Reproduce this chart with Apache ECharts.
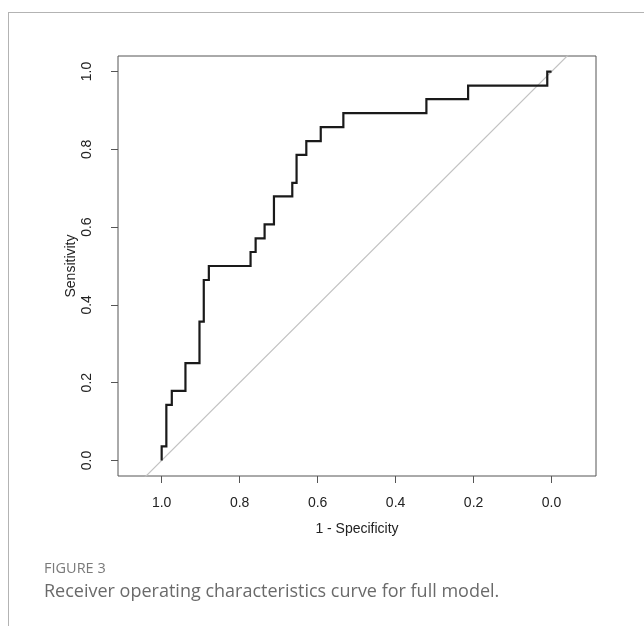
<!DOCTYPE html>
<html>
<head>
<meta charset="utf-8">
<script src="https://cdn.jsdelivr.net/npm/echarts@6/dist/echarts.min.js"></script>
<style>
  html, body { margin: 0; padding: 0; background: #fff; }
  #wrap { position: relative; width: 644px; height: 626px; }
  #frame { position: absolute; left: 8px; top: 12px; right: 0; bottom: 0;
           border-top: 1px solid #b3b3b3; border-left: 1px solid #b3b3b3; }
  #chart { position: absolute; left: 0; top: 0; width: 644px; height: 626px; }
</style>
</head>
<body>
<div id="wrap">
  <div id="frame"></div>
  <div id="chart"></div>
</div>
<script>
// ROC step points (specificity, sensitivity)
const specificity = [1.000, 0.988, 0.974, 0.939, 0.903, 0.892, 0.879, 0.772, 0.759, 0.736,
                     0.712, 0.665, 0.654, 0.629, 0.592, 0.534, 0.321, 0.214, 0.011, 0.000]
const sensitivity = [0.000, 0.036, 0.143, 0.179, 0.250, 0.357, 0.464, 0.500, 0.536, 0.571,
                     0.607, 0.679, 0.714, 0.786, 0.821, 0.857, 0.893, 0.929, 0.964, 1.000]

// chance line: sensitivity = 1 - specificity
const diagSpec = [1.3, -0.3]
const diagSens = [-0.3, 1.3]

const tickValues = [0, 0.2, 0.4, 0.6, 0.8, 1.0]

const chart = echarts.init(document.getElementById('chart'))

const axisText = { color: '#222', fontSize: 14, fontFamily: 'Liberation Sans, Arial, sans-serif' }

const option = {
  animation: false,
  title: [
    {
      text: 'FIGURE 3',
      left: 39,
      top: 556,
      textStyle: { color: '#7a7a7a', fontSize: 14.5, fontWeight: 'normal', fontFamily: 'Open Sans, sans-serif' }
    },
    {
      text: 'Receiver operating characteristics curve for full model.',
      left: 39,
      top: 578,
      textStyle: { color: '#6a6a6a', fontSize: 18, fontWeight: 'normal', fontFamily: 'Open Sans, sans-serif' }
    }
  ],
  grid: {
    left: 118,
    top: 56,
    width: 478,
    height: 420,
    show: true,
    borderColor: '#555',
    borderWidth: 1
  },
  xAxis: {
    type: 'value',
    inverse: true,
    min: -0.114,
    max: 1.112,
    name: '1 - Specificity',
    nameLocation: 'middle',
    nameGap: 46,
    nameMoveOverlap: false,
    nameTextStyle: axisText,
    axisLine: { show: false, onZero: false },
    axisTick: { show: true, length: 7, customValues: tickValues, lineStyle: { color: '#555' } },
    axisLabel: Object.assign({ margin: 20, customValues: tickValues, formatter: v => v.toFixed(1) }, axisText),
    splitLine: { show: false }
  },
  yAxis: {
    type: 'value',
    min: -0.04,
    max: 1.04,
    name: 'Sensitivity',
    nameLocation: 'middle',
    nameGap: 40,
    nameRotate: 90,
    nameMoveOverlap: false,
    nameTextStyle: axisText,
    axisLine: { show: false, onZero: false },
    axisTick: { show: true, length: 7, customValues: tickValues, lineStyle: { color: '#555' } },
    axisLabel: Object.assign({ margin: 24, rotate: 90, customValues: tickValues, formatter: v => v.toFixed(1) }, axisText),
    splitLine: { show: false }
  },
  series: [
    {
      name: 'chance',
      type: 'line',
      symbol: 'none',
      clip: true,
      data: diagSpec.map((s, i) => [s, diagSens[i]]),
      lineStyle: { color: '#c2c2c2', width: 1.2 },
      silent: true
    },
    {
      name: 'ROC',
      type: 'line',
      step: 'start',
      symbol: 'none',
      data: specificity.map((s, i) => [s, sensitivity[i]]),
      lineStyle: { color: '#1a1a1a', width: 2.2, join: 'miter' }
    }
  ]
}

chart.setOption(option)
</script>
</body>
</html>
